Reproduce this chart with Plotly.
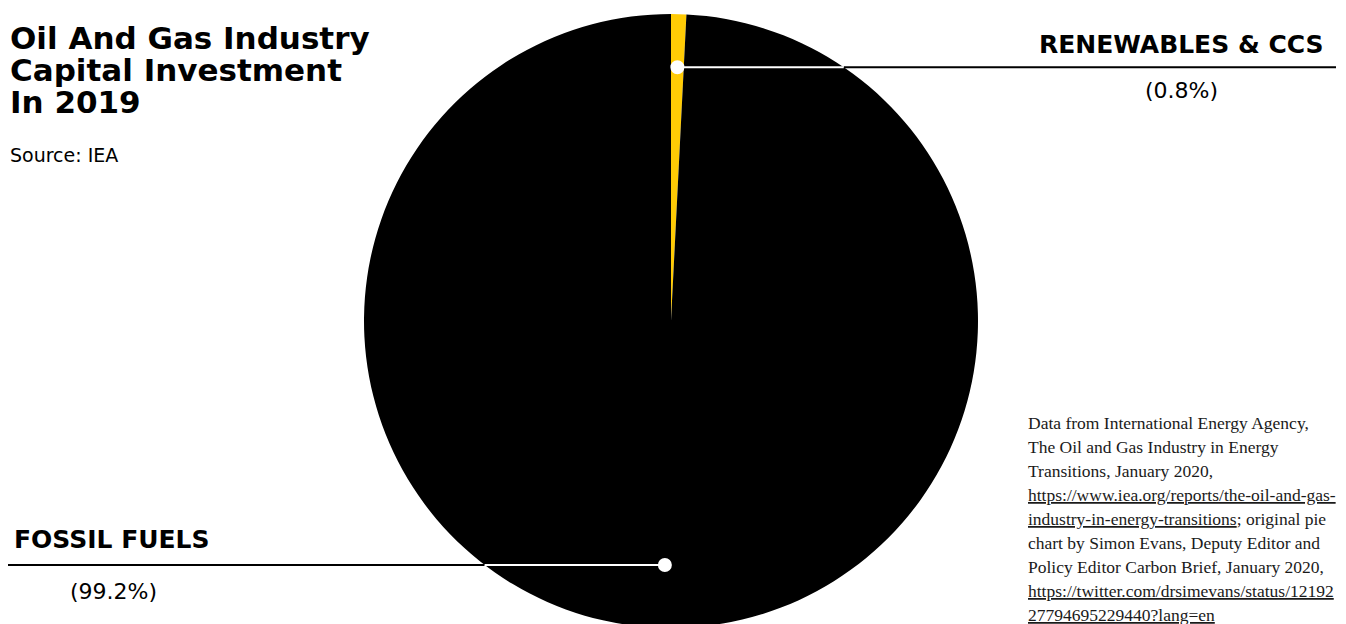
import math
import plotly.graph_objects as go

W, H = 1346, 624
OFF = 8  # page body margin offset (screen px = figure px + OFF)

# ---- data ----
labels = ["RENEWABLES & CCS", "FOSSIL FUELS"]
shares = [0.8, 99.2]
share_text = ["(0.8%)", "(99.2%)"]
colors = ["#FFCB05", "#000000"]

title_lines = ["Oil And Gas Industry", "Capital Investment", "In 2019"]
source_text = "Source: IEA"
note_lines = [
    "Data from International Energy Agency,",
    "The Oil and Gas Industry in Energy",
    "Transitions, January 2020,",
    "<u>https://www.iea.org/reports/the-oil-and-gas-</u>",
    "<u>industry-in-energy-transitions</u>; original pie",
    "chart by Simon Evans, Deputy Editor and",
    "Policy Editor Carbon Brief, January 2020,",
    "<u>https://twitter.com/drsimevans/status/12192</u>",
    "<u>27794695229440?lang=en</u>",
]

# ---- geometry (screen pixels) ----
cx = 671.0
cy = 321.0
r = 307.0


def px(x):
    return (x - OFF) / W


def py(y):
    return 1 - (y - OFF) / H


fig = go.Figure()
fig.add_trace(go.Pie(
    labels=labels,
    values=shares,
    sort=False,
    direction="clockwise",
    rotation=0,
    marker=dict(colors=colors, line=dict(width=0)),
    textinfo="none",
    hoverinfo="label+percent",
    showlegend=False,
    domain=dict(x=[px(cx - r), px(cx + r)], y=[py(cy + r), py(cy - r)]),
))

# leader-line dots at each slice's mid angle
total = sum(shares)
radial_frac = [0.827, 0.795]
line_end = [1336, 8]
label_cfg = [
    dict(cx=1181, title_dy=-23, pct_dy=23),
    dict(lx=12, pctx=113, title_dy=-25, pct_dy=27),
]
shapes = []
annotations = []
cum = 0.0
for i, v in enumerate(shares):
    mid = (cum + v / 2.0) / total * 2 * math.pi
    cum += v
    dx = radial_frac[i] * r * math.sin(mid)
    dy = -radial_frac[i] * r * math.cos(mid)
    dotx, doty = cx + dx, cy + dy
    half = math.sqrt(max(r * r - (doty - cy) ** 2, 0))
    endx = line_end[i]
    edgex = cx + half if endx > dotx else cx - half
    shapes.append(dict(type="line", xref="paper", yref="paper",
                       x0=px(edgex), x1=px(endx), y0=py(doty), y1=py(doty),
                       line=dict(color="#000000", width=2), layer="above"))
    shapes.append(dict(type="line", xref="paper", yref="paper",
                       x0=px(dotx), x1=px(edgex), y0=py(doty), y1=py(doty),
                       line=dict(color="#ffffff", width=2), layer="above"))
    rd = 7
    shapes.append(dict(type="circle", xref="paper", yref="paper",
                       x0=px(dotx - rd), x1=px(dotx + rd),
                       y0=py(doty + rd), y1=py(doty - rd),
                       fillcolor="#ffffff", line=dict(width=0), layer="above"))
    cfg = label_cfg[i]
    if "cx" in cfg:
        tx, txa = cfg["cx"], "center"
        ppx = cfg["cx"]
    else:
        tx, txa = cfg["lx"], "left"
        ppx = cfg["pctx"]
    annotations.append(dict(text="<b>%s</b>" % labels[i], x=px(tx), xanchor=txa,
                            y=py(doty + cfg["title_dy"]), yanchor="middle",
                            font=dict(family="DejaVu Sans", size=25, color="#000"),
                            showarrow=False, xref="paper", yref="paper"))
    annotations.append(dict(text=share_text[i], x=px(ppx), xanchor="center",
                            y=py(doty + cfg["pct_dy"]), yanchor="middle",
                            font=dict(family="DejaVu Sans", size=22, color="#000"),
                            showarrow=False, xref="paper", yref="paper"))

# title block
for k, t in enumerate(title_lines):
    annotations.append(dict(text="<b>%s</b>" % t, x=px(8), xanchor="left",
                            y=py(38 + 32 * k), yanchor="middle",
                            font=dict(family="DejaVu Sans", size=31, color="#000"),
                            showarrow=False, xref="paper", yref="paper"))
annotations.append(dict(text=source_text, x=px(8), xanchor="left",
                        y=py(155), yanchor="middle",
                        font=dict(family="DejaVu Sans", size=19, color="#000"),
                        showarrow=False, xref="paper", yref="paper"))

# notes block
for k, t in enumerate(note_lines):
    annotations.append(dict(text=t, x=px(1026), xanchor="left",
                            y=py(423 + 24 * k), yanchor="middle",
                            font=dict(family="Liberation Serif", size=17.5, color="#1a1a1a"),
                            showarrow=False, xref="paper", yref="paper"))

fig.update_layout(
    width=W, height=H,
    margin=dict(l=0, r=0, t=0, b=0),
    paper_bgcolor="#ffffff",
    plot_bgcolor="#ffffff",
    shapes=shapes,
    annotations=annotations,
)

fig.write_html("out.html")
